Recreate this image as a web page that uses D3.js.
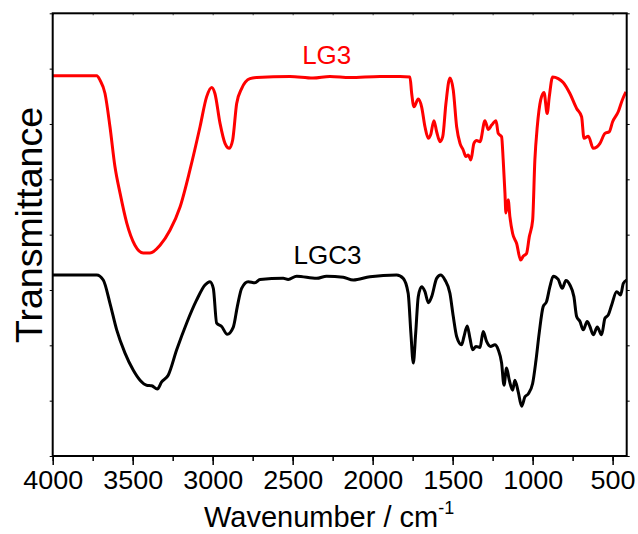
<!DOCTYPE html>
<html>
<head>
<meta charset="utf-8">
<script src="https://cdn.jsdelivr.net/npm/d3@7"></script>
<style>
  body { margin: 0; background: #fff; }
  text { font-family: Arial, "Liberation Sans", sans-serif; fill: #000; }
</style>
</head>
<body>
<script>
// data (wavenumber in cm-1, transmittance in arbitrary units)
const wnLG3 = [4000, 3861, 3725, 3704, 3673, 3642, 3611, 3579, 3537, 3486, 3434, 3392, 3329, 3267, 3204, 3142, 3079, 3038, 3006, 2986, 2954, 2923, 2896, 2875, 2850, 2819, 2767, 2725, 2517, 2373, 2267, 2142, 1954, 1829, 1767, 1756, 1742, 1715, 1694, 1673, 1652, 1638, 1617, 1600, 1579, 1562, 1542, 1517, 1496, 1475, 1454, 1434, 1417, 1402, 1386, 1367, 1350, 1329, 1298, 1277, 1256, 1229, 1215, 1194, 1184, 1173, 1167, 1153, 1142, 1125, 1100, 1075, 1059, 1038, 1021, 1000, 986, 971, 950, 929, 909, 896, 875, 840, 809, 767, 725, 694, 679, 652, 621, 579, 548, 521, 500, 465, 440, 417];
const tLG3 = [6.87, 6.87, 6.87, 6.79, 6.55, 5.95, 5.23, 4.75, 4.21, 3.81, 3.67, 3.67, 3.81, 4.08, 4.50, 5.17, 5.95, 6.49, 6.66, 6.55, 6.01, 5.65, 5.56, 5.71, 6.37, 6.64, 6.82, 6.84, 6.86, 6.83, 6.86, 6.84, 6.86, 6.86, 6.85, 6.55, 6.31, 6.45, 6.31, 5.95, 5.74, 5.80, 6.06, 5.86, 5.68, 5.77, 6.37, 6.83, 6.61, 5.95, 5.65, 5.53, 5.41, 5.44, 5.35, 5.65, 5.70, 5.68, 6.06, 5.90, 5.98, 6.06, 5.83, 5.77, 5.35, 4.75, 4.39, 4.63, 4.32, 4.02, 3.84, 3.54, 3.61, 3.66, 3.96, 4.26, 5.35, 5.95, 6.43, 6.57, 6.19, 6.49, 6.85, 6.82, 6.75, 6.55, 6.28, 6.13, 5.74, 5.78, 5.56, 5.65, 5.83, 5.86, 6.04, 6.22, 6.43, 6.58];

const wnLGC3 = [4000, 3725, 3684, 3642, 3600, 3548, 3496, 3454, 3413, 3381, 3346, 3319, 3278, 3225, 3163, 3100, 3048, 3017, 2996, 2975, 2944, 2909, 2871, 2846, 2819, 2778, 2736, 2704, 2559, 2528, 2475, 2350, 2288, 2184, 2121, 2017, 1850, 1809, 1778, 1761, 1746, 1731, 1715, 1694, 1673, 1652, 1631, 1600, 1575, 1548, 1517, 1496, 1475, 1444, 1429, 1409, 1392, 1375, 1354, 1329, 1309, 1288, 1263, 1236, 1215, 1194, 1179, 1163, 1146, 1125, 1111, 1090, 1069, 1048, 1028, 1000, 979, 959, 934, 913, 892, 871, 840, 815, 792, 767, 742, 725, 704, 684, 659, 642, 621, 596, 569, 548, 527, 506, 475, 450, 433, 412];
const tLGC3 = [3.27, 3.27, 3.18, 2.76, 2.28, 1.86, 1.55, 1.37, 1.28, 1.27, 1.21, 1.34, 1.46, 1.92, 2.40, 2.82, 3.09, 3.15, 3.03, 2.40, 2.34, 2.20, 2.33, 2.70, 3.03, 3.15, 3.13, 3.19, 3.21, 3.19, 3.25, 3.21, 3.25, 3.23, 3.18, 3.24, 3.27, 3.21, 2.94, 2.22, 1.68, 2.22, 2.88, 3.06, 2.97, 2.77, 2.88, 3.21, 3.27, 3.18, 2.94, 2.52, 2.16, 2.01, 2.16, 2.35, 2.13, 1.92, 1.98, 1.96, 2.25, 2.07, 1.98, 2.01, 1.92, 1.68, 1.28, 1.59, 1.37, 1.19, 1.37, 1.16, 0.90, 1.07, 1.12, 1.31, 1.73, 2.22, 2.70, 2.79, 3.06, 3.25, 3.19, 3.03, 3.17, 3.09, 2.88, 2.52, 2.43, 2.28, 2.43, 2.34, 2.19, 2.33, 2.19, 2.49, 2.55, 2.73, 2.97, 2.91, 3.12, 3.18];

const seriesNames = ['LG3', 'LGC3'];
const seriesColors = ['#ff0000', '#000000'];
const xTicks = [4000, 3500, 3000, 2500, 2000, 1500, 1000, 500];
const xMinorTicks = d3.range(4000, 400, -250);
const yTicks = d3.range(0, 9, 1);

// canvas
const width = 638, height = 534;
const plotLeft = 52.7, plotRight = 626.7, plotTop = 13.3, plotBottom = 456;

const svg = d3.select('body').append('svg')
  .attr('width', width)
  .attr('height', height);

const x = d3.scaleLinear().domain([4000, 412]).range([plotLeft, plotRight]);
const y = d3.scaleLinear().domain([0, 8]).range([plotBottom, plotTop]);

// curves
const line = d3.line()
  .x(d => x(d[0]))
  .y(d => y(d[1]))
  .curve(d3.curveMonotoneX);

const series = [
  d3.zip(wnLG3, tLG3),
  d3.zip(wnLGC3, tLGC3)
];

svg.selectAll('path.curve')
  .data(series)
  .enter()
  .append('path')
  .attr('class', 'curve')
  .attr('d', line)
  .attr('fill', 'none')
  .attr('stroke', (d, i) => seriesColors[i])
  .attr('stroke-width', 3)
  .attr('stroke-linejoin', 'round');

// axes
svg.append('g')
  .attr('transform', `translate(0,${plotBottom})`)
  .call(d3.axisBottom(x).tickValues(xMinorTicks).tickSize(5).tickFormat(''))
  .call(g => g.select('.domain').remove())
  .selectAll('line').attr('stroke-width', 1.5);

svg.append('g')
  .attr('transform', `translate(0,${plotBottom})`)
  .call(d3.axisBottom(x).tickValues(xTicks).tickSize(9).tickPadding(6).tickFormat(d3.format('d')))
  .call(g => g.select('.domain').remove())
  .call(g => g.selectAll('line').attr('stroke-width', 1.5))
  .call(g => g.selectAll('text')
    .attr('font-size', 26)
    .attr('textLength', d => String(d).length * 15)
    .attr('lengthAdjust', 'spacingAndGlyphs')
    .attr('fill', '#000'));

svg.append('g')
  .attr('transform', `translate(0,${plotTop})`)
  .call(d3.axisBottom(x).tickValues(xMinorTicks).tickSize(2).tickFormat(''))
  .call(g => g.select('.domain').remove())
  .selectAll('line').attr('stroke', '#555');

svg.append('g')
  .attr('transform', `translate(${plotLeft},0)`)
  .call(d3.axisLeft(y).tickValues(yTicks).tickSize(3).tickFormat(''))
  .call(g => g.select('.domain').remove());

svg.append('g')
  .attr('transform', `translate(${plotRight},0)`)
  .call(d3.axisRight(y).tickValues(yTicks).tickSize(3).tickFormat(''))
  .call(g => g.select('.domain').remove());

// frame
svg.append('rect')
  .attr('x', plotLeft)
  .attr('y', plotTop)
  .attr('width', plotRight - plotLeft)
  .attr('height', plotBottom - plotTop)
  .attr('fill', 'none')
  .attr('stroke', '#000')
  .attr('stroke-width', 2);

// series labels
const labelWn = [2287, 2282];
const labelT = [7.08, 3.47];
svg.selectAll('text.series')
  .data(seriesNames)
  .enter()
  .append('text')
  .attr('class', 'series')
  .attr('x', (d, i) => x(labelWn[i]))
  .attr('y', (d, i) => y(labelT[i]))
  .attr('text-anchor', 'middle')
  .attr('font-size', 26)
  .style('fill', (d, i) => seriesColors[i])
  .text(d => d);

// axis titles
const xTitle = svg.append('text')
  .attr('x', 204)
  .attr('y', 527)
  .attr('font-size', 29);
xTitle.append('tspan').text('Wavenumber / cm');
xTitle.append('tspan').attr('dy', -13).attr('font-size', 18).text('-1');

svg.append('text')
  .attr('transform', 'translate(42,225) rotate(-90)')
  .attr('text-anchor', 'middle')
  .attr('font-size', 36)
  .attr('textLength', 236)
  .attr('lengthAdjust', 'spacingAndGlyphs')
  .text('Transmittance');
</script>
</body>
</html>
